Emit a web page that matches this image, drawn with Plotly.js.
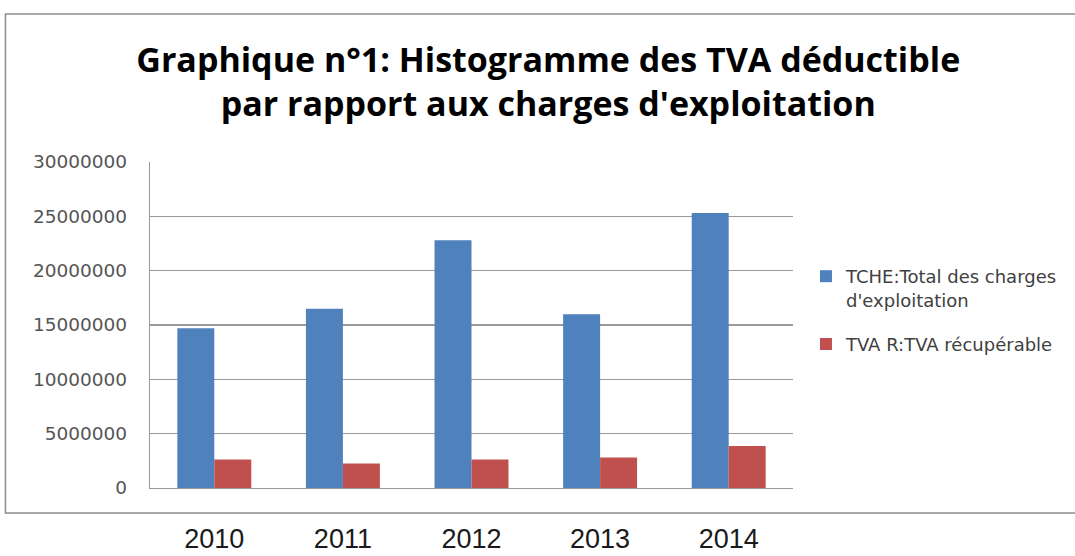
<!DOCTYPE html>
<html>
<head>
<meta charset="utf-8">
<script src="https://cdn.plot.ly/plotly-3.0.1.min.js"></script>
<style>html,body{margin:0;padding:0;background:#fff;}#chart{width:1075px;height:556px;}</style>
</head>
<body>
<div id="chart"></div>
<script>
const years = ["2010", "2011", "2012", "2013", "2014"];
const tcheName = "TCHE:Total des charges<br>d'exploitation";
const tvaName = "TVA R:TVA récupérable";
const tcheValues = [14700000, 16500000, 22800000, 16000000, 25300000];
const tvaValues = [2620000, 2250000, 2620000, 2800000, 3870000];
const yTickVals = [0, 5000000, 10000000, 15000000, 20000000, 25000000, 30000000];

const traces = [
  {type: "bar", x: years, y: tcheValues, name: tcheName, legendgroup: "a",
   marker: {color: "#4F81BD"}, hoverinfo: "x+y"},
  {type: "bar", x: years, y: tvaValues, name: tvaName, legendgroup: "b",
   marker: {color: "#C0504D"}, hoverinfo: "x+y"}
];

const W = 1075, H = 556, L = 150, R = 280, T = 162, B = 68;
const pw = W - L - R, ph = H - T - B;
const px = v => (v - L) / pw;
const py = v => (H - B - v) / ph;

const layout = {
  width: W, height: H,
  margin: {l: L, r: R, t: T, b: B, pad: 0},
  paper_bgcolor: "#ffffff", plot_bgcolor: "#ffffff",
  barmode: "group", bargap: 0.425, bargroupgap: 0,
  title: {
    text: "Graphique n°1: Histogramme des TVA déductible<br>par rapport aux charges d'exploitation",
    font: {family: "Open Sans, sans-serif", size: 34, color: "#000000", weight: "bold"},
    x: 0.51, xanchor: "center", xref: "container",
    y: 1 - 72 / H, yanchor: "top", yref: "container"
  },
  xaxis: {
    type: "category", categoryarray: years, categoryorder: "array",
    showgrid: false, zeroline: false, showline: true, linecolor: "#9a9a9a", linewidth: 1.2,
    ticks: "", ticklabelstandoff: 26,
    tickfont: {family: "Liberation Sans, sans-serif", size: 27, color: "#1a1a1a"},
    fixedrange: true
  },
  yaxis: {
    range: [0, 30000000], tickmode: "array", tickvals: yTickVals, tickformat: "d",
    showgrid: true, gridcolor: "#9a9a9a", gridwidth: 1.2,
    zeroline: false, showline: true, linecolor: "#9a9a9a", linewidth: 1.2,
    ticks: "", ticklabelstandoff: 18,
    tickfont: {family: "DejaVu Sans, sans-serif", size: 18.5, color: "#555555"},
    fixedrange: true
  },
  legend: {
    x: px(808), y: py(258), xanchor: "left", yanchor: "top",
    font: {family: "DejaVu Sans, sans-serif", size: 18, color: "#404040"},
    bgcolor: "rgba(0,0,0,0)", valign: "top", traceorder: "grouped", tracegroupgap: 18
  },
  shapes: [
    {type: "rect", xref: "paper", yref: "paper",
     x0: px(5), x1: px(1085), y0: py(513), y1: py(14),
     line: {color: "#8c8c8c", width: 1.5}, fillcolor: "rgba(0,0,0,0)", layer: "below"}
  ],
  showlegend: true
};

Plotly.newPlot("chart", traces, layout, {displayModeBar: false, staticPlot: true});
</script>
</body>
</html>
